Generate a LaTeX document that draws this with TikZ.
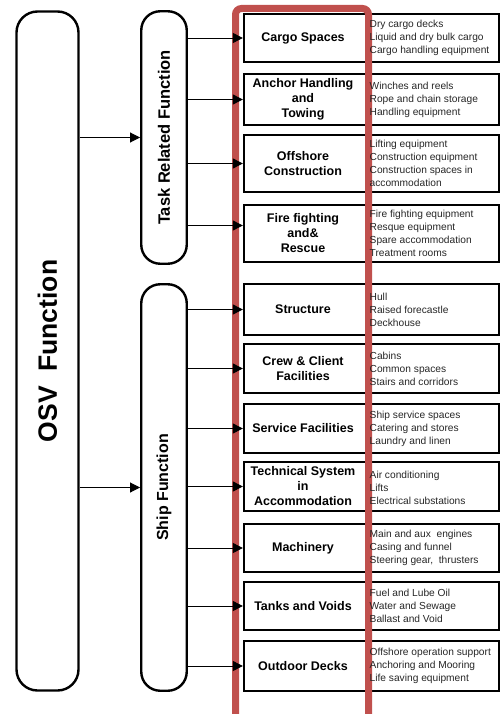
\documentclass[tikz,border=0pt]{standalone}
\usepackage{fontspec}
\setmainfont{Liberation Sans}
\usetikzlibrary{positioning,arrows.meta}

\definecolor{barred}{RGB}{192,80,77}

\tikzset{
  bigbox/.style={draw, line width=2.4pt, rounded corners=21pt},
  sidebox/.style={draw, line width=2.4pt, rounded corners=19pt},
  funcbox/.style={draw, line width=2.3pt, minimum width=255pt},
  funclabel/.style={align=center, inner sep=0pt, font=\bfseries\fontsize{12.5}{15}\selectfont},
  funcdesc/.style={align=left, inner sep=0pt, anchor=west, text=black!85, font=\fontsize{10.2}{13}\selectfont},
  arr/.style={->, line width=0.9pt}
}

\begin{document}
\begin{tikzpicture}[x=1pt, y=-1pt, >={Triangle[length=10pt,width=10pt]}]
    \useasboundingbox (0,0) rectangle (501,714);

    % left side
    \node[bigbox, minimum width=62pt, minimum height=679pt] (osv) at (47.5,351)
        {\rotatebox{90}{\bfseries\fontsize{26.5}{30}\selectfont OSV\ \ Function}};
    \node[sidebox, minimum width=45.5pt, minimum height=252.5pt] (task) at (164,137.5)
        {\rotatebox{90}{\bfseries\fontsize{16.5}{18}\selectfont Task Related\ Function}};
    \node[sidebox, minimum width=45.5pt, minimum height=406.5pt] (ship) at (164,487.5)
        {\rotatebox{90}{\bfseries\fontsize{16}{18}\selectfont Ship Function}};

    % function boxes (frames first, red bars go over them)
    \foreach \n/\t/\b in {cargo/13/63, anchor/73/126, offshore/134/193, fire/204/263,
        structure/283/336, crew/343/394, service/403/454, technical/461/512,
        machinery/523/573, tanks/581/631, outdoor/640/692}
        \node[funcbox, minimum height={(\b-\t-2.3)*1pt}] (\n) at (371.5,{(\t+\b)/2}) {};

    \draw[barred, line width=7pt, rounded corners=6pt] (235.5,730) -- (235.5,8.5) -- (368.5,8.5) -- (368.5,730);

    % labels
    \node[funclabel] (cargo-lab) at (303,38) {Cargo Spaces};
    \node[funclabel] (anchor-lab) at (303,99.5) {Anchor Handling\\and\\Towing};
    \node[funclabel] (offshore-lab) at (303,163.5) {Offshore\\Construction};
    \node[funclabel] (fire-lab) at (303,233.5) {Fire fighting\\and\&\\Rescue};
    \node[funclabel] (structure-lab) at (303,309.5) {Structure};
    \node[funclabel] (crew-lab) at (303,368.5) {Crew \& Client\\Facilities};
    \node[funclabel] (service-lab) at (303,428.5) {Service Facilities};
    \node[funclabel] (technical-lab) at (303,486.5) {Technical System\\in\\Accommodation};
    \node[funclabel] (machinery-lab) at (303,548) {Machinery};
    \node[funclabel] (tanks-lab) at (303,606) {Tanks and Voids};
    \node[funclabel] (outdoor-lab) at (303,666) {Outdoor Decks};

    % descriptions
    \node[funcdesc] (cargo-desc) at (369.5,38) {Dry cargo decks\\Liquid and dry bulk cargo\\Cargo handling equipment};
    \node[funcdesc] (anchor-desc) at (369.5,99.5) {Winches and reels\\Rope and chain storage\\Handling equipment};
    \node[funcdesc] (offshore-desc) at (369.5,163.5) {Lifting equipment\\Construction equipment\\Construction spaces in\\accommodation};
    \node[funcdesc] (fire-desc) at (369.5,233.5) {Fire fighting equipment\\Resque equipment\\Spare accommodation\\Treatment rooms};
    \node[funcdesc] (structure-desc) at (369.5,309.5) {Hull\\Raised forecastle\\Deckhouse};
    \node[funcdesc] (crew-desc) at (369.5,368.5) {Cabins\\Common spaces\\Stairs and corridors};
    \node[funcdesc] (service-desc) at (369.5,428.5) {Ship service spaces\\Catering and stores\\Laundry and linen};
    \node[funcdesc] (technical-desc) at (369.5,487.5) {Air conditioning\\Lifts\\Electrical substations};
    \node[funcdesc] (machinery-desc) at (369.5,548) {Main and aux\ \ engines\\Casing and funnel\\Steering gear,\ \ thrusters};
    \node[funcdesc] (tanks-desc) at (369.5,606) {Fuel and Lube Oil\\Water and Sewage\\Ballast and Void};
    \node[funcdesc] (outdoor-desc) at (369.5,666) {Offshore operation support\\Anchoring and Mooring\\Life saving equipment};

    % arrows
    \draw[arr] (osv.east |- task.west) -- (task.west);
    \draw[arr] (osv.east |- ship.west) -- (ship.west);

    \foreach \n in {cargo, anchor, offshore}
        \draw[arr] (task.east |- \n.west) -- (\n.west);
    \coordinate (firein) at ([yshift=8pt]fire.west);
    \draw[arr] (task.east |- firein) -- (firein);

    \foreach \n in {structure, crew, service, technical, machinery, tanks, outdoor}
        \draw[arr] (ship.east |- \n.west) -- (\n.west);

\end{tikzpicture}
\end{document}
